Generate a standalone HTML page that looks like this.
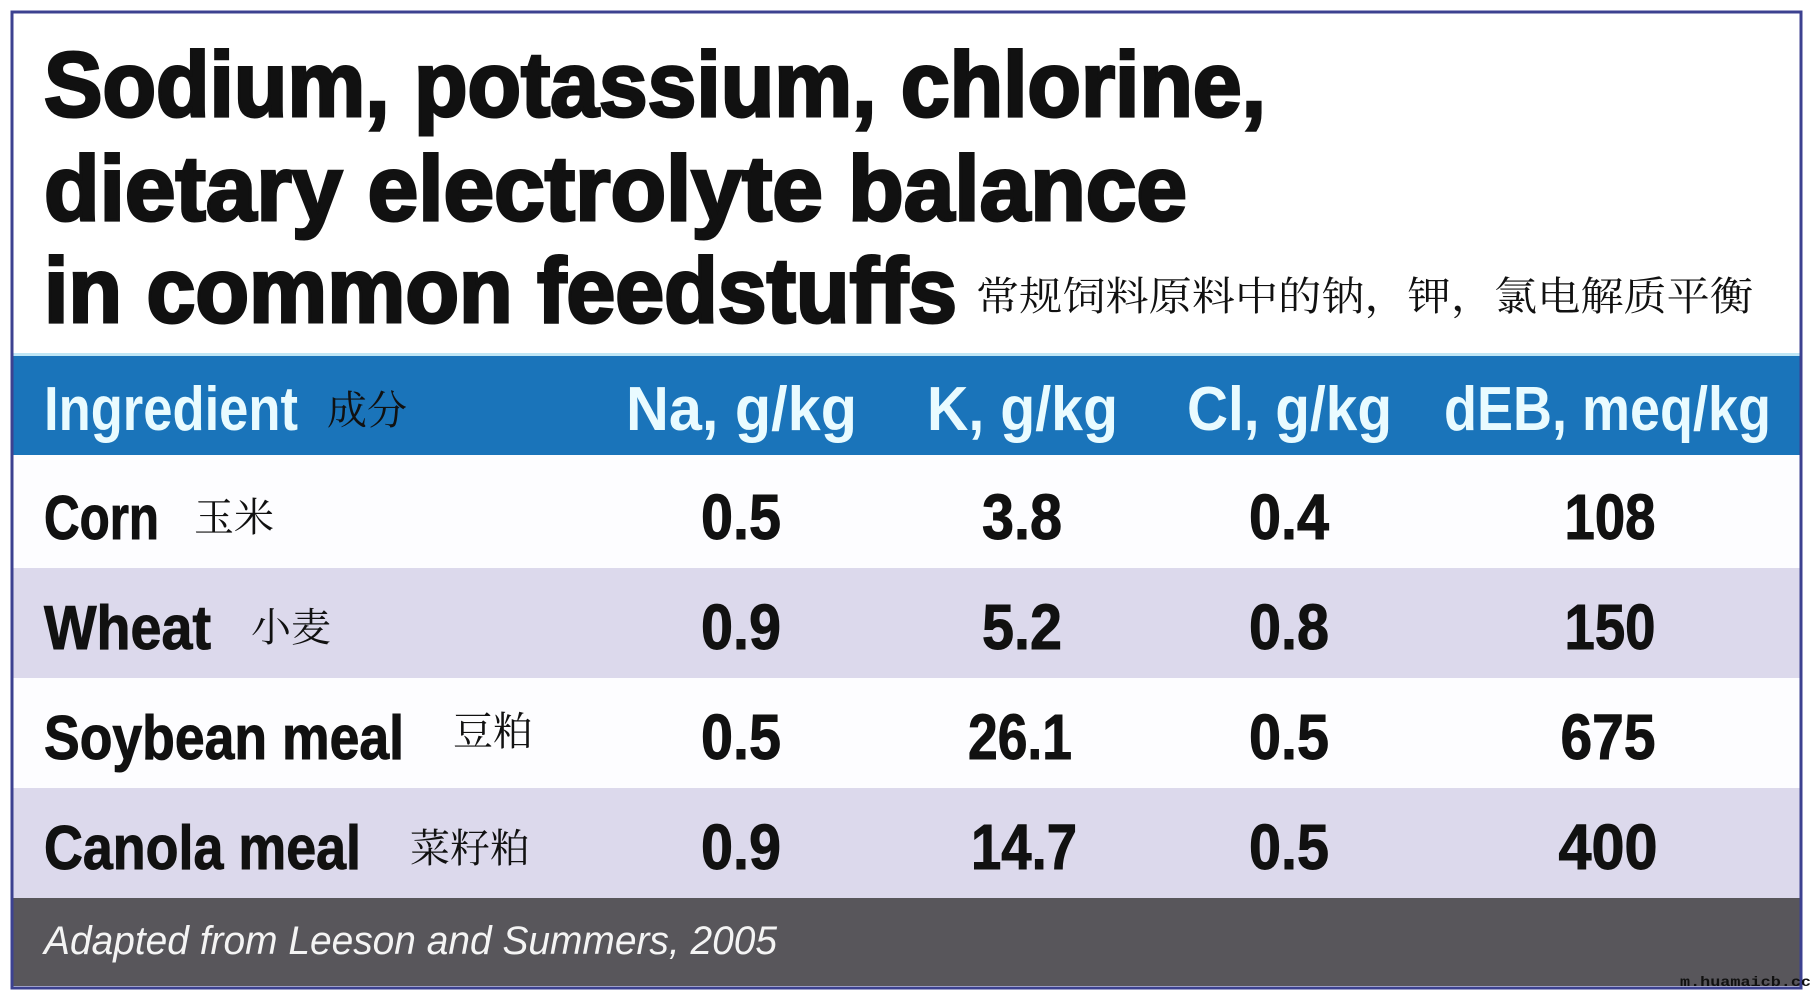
<!DOCTYPE html>
<html><head><meta charset="utf-8"><style>
html,body{margin:0;padding:0;background:#fff;}
svg{display:block;}
</style></head><body>
<svg width="1811" height="997" viewBox="0 0 1811 997" xmlns="http://www.w3.org/2000/svg">
<rect x="0" y="0" width="1811" height="997" fill="#fff"/>
<rect x="13" y="356" width="1788" height="99" fill="#1a74ba"/>
<rect x="13" y="353" width="1788" height="3" fill="#bfe6f5"/>
<rect x="13" y="455" width="1788" height="113" fill="#fdfdff"/>
<rect x="13" y="568" width="1788" height="110" fill="#dcd9ec"/>
<rect x="13" y="678" width="1788" height="110" fill="#fdfdff"/>
<rect x="13" y="788" width="1788" height="110" fill="#dcd9ec"/>
<rect x="13" y="898" width="1788" height="88" fill="#58565b"/>
<rect x="12" y="12" width="1789" height="976" fill="none" stroke="#3c4190" stroke-width="3"/>
<g font-family="Liberation Sans, sans-serif" font-weight="bold" fill="#111" stroke="#111" stroke-width="3">
<text x="44" y="116" font-size="92" textLength="1222" lengthAdjust="spacingAndGlyphs">Sodium, potassium, chlorine,</text>
<text x="44" y="220" font-size="92" textLength="1143" lengthAdjust="spacingAndGlyphs">dietary electrolyte balance</text>
<text x="44" y="322" font-size="92" textLength="913" lengthAdjust="spacingAndGlyphs">in common feedstuffs</text>
</g>
<text x="976" y="310" font-family="Noto Serif CJK SC, serif" font-size="40" fill="#111" textLength="777" lengthAdjust="spacingAndGlyphs">常规饲料原料中的钠，钾，氯电解质平衡</text>
<g font-family="Liberation Sans, sans-serif" font-weight="bold" fill="#e9fbff" font-size="62">
<text x="44" y="430" textLength="254" lengthAdjust="spacingAndGlyphs">Ingredient</text>
<text x="626" y="430" textLength="231" lengthAdjust="spacingAndGlyphs">Na, g/kg</text>
<text x="927" y="430" textLength="191" lengthAdjust="spacingAndGlyphs">K, g/kg</text>
<text x="1187" y="430" textLength="205" lengthAdjust="spacingAndGlyphs">Cl, g/kg</text>
<text x="1444" y="430" textLength="327" lengthAdjust="spacingAndGlyphs">dEB, meq/kg</text>
</g>
<text x="327" y="424" font-family="Noto Serif CJK SC, serif" font-size="40" fill="#111">成分</text>
<g font-family="Liberation Sans, sans-serif" font-weight="bold" fill="#111" font-size="62" stroke="#111" stroke-width="1">
<text x="44" y="539" textLength="115" lengthAdjust="spacingAndGlyphs">Corn</text>
<text x="44" y="649" textLength="167" lengthAdjust="spacingAndGlyphs">Wheat</text>
<text x="44" y="759" textLength="360" lengthAdjust="spacingAndGlyphs">Soybean meal</text>
<text x="44" y="869" textLength="317" lengthAdjust="spacingAndGlyphs">Canola meal</text>
</g>
<g font-family="Noto Serif CJK SC, serif" font-size="40" fill="#111">
<text x="194" y="531">玉米</text>
<text x="251" y="641">小麦</text>
<text x="453" y="745">豆粕</text>
<text x="410" y="862">菜籽粕</text>
</g>
<g font-family="Liberation Sans, sans-serif" font-weight="bold" fill="#111" font-size="64" text-anchor="middle" stroke="#111" stroke-width="1">
<text x="741" y="539" textLength="80" lengthAdjust="spacingAndGlyphs">0.5</text>
<text x="1022" y="539" textLength="80" lengthAdjust="spacingAndGlyphs">3.8</text>
<text x="1289" y="539" textLength="80" lengthAdjust="spacingAndGlyphs">0.4</text>
<text x="1610" y="539" textLength="91" lengthAdjust="spacingAndGlyphs">108</text>
<text x="741" y="649" textLength="80" lengthAdjust="spacingAndGlyphs">0.9</text>
<text x="1022" y="649" textLength="80" lengthAdjust="spacingAndGlyphs">5.2</text>
<text x="1289" y="649" textLength="80" lengthAdjust="spacingAndGlyphs">0.8</text>
<text x="1610" y="649" textLength="91" lengthAdjust="spacingAndGlyphs">150</text>
<text x="741" y="759" textLength="80" lengthAdjust="spacingAndGlyphs">0.5</text>
<text x="1020" y="759" textLength="104" lengthAdjust="spacingAndGlyphs">26.1</text>
<text x="1289" y="759" textLength="80" lengthAdjust="spacingAndGlyphs">0.5</text>
<text x="1608" y="759" textLength="95" lengthAdjust="spacingAndGlyphs">675</text>
<text x="741" y="869" textLength="80" lengthAdjust="spacingAndGlyphs">0.9</text>
<text x="1024" y="869" textLength="106" lengthAdjust="spacingAndGlyphs">14.7</text>
<text x="1289" y="869" textLength="80" lengthAdjust="spacingAndGlyphs">0.5</text>
<text x="1608" y="869" textLength="99" lengthAdjust="spacingAndGlyphs">400</text>
</g>
<text x="44" y="954" font-family="Liberation Sans, sans-serif" font-style="italic" font-size="40" fill="#f4f4f4" textLength="733" lengthAdjust="spacingAndGlyphs">Adapted from Leeson and Summers, 2005</text>
<text x="1680" y="986" font-family="Liberation Mono, monospace" font-size="14" font-weight="bold" fill="#111" textLength="131" lengthAdjust="spacingAndGlyphs">m.huamaicb.cc</text>
</svg>
</body></html>
